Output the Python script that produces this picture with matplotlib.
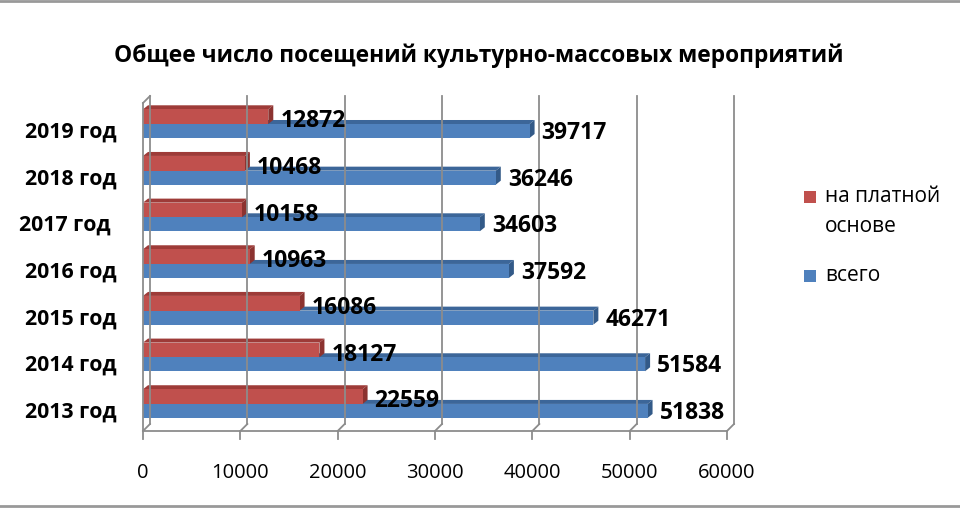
import matplotlib
matplotlib.use('Agg')
import matplotlib.pyplot as plt
from matplotlib.patches import Polygon, Rectangle
from matplotlib.lines import Line2D
import matplotlib.transforms as mtransforms

plt.rcParams['font.family'] = ['Open Sans', 'DejaVu Sans']

# data (bottom to top)
years = ['2013 год', '2014 год', '2015 год', '2016 год', '2017 год ', '2018 год', '2019 год']
paid = [22559, 18127, 16086, 10963, 10158, 10468, 12872]
total = [51838, 51584, 46271, 37592, 34603, 36246, 39717]
xticks = [0, 10000, 20000, 30000, 40000, 50000, 60000]
title = 'Общее число посещений культурно-массовых мероприятий'
series_names = ['на платной\nоснове', 'всего']

RED, RED_TOP, RED_SIDE = '#C0504D', '#9E3B38', '#8C3330'
BLUE, BLUE_TOP, BLUE_SIDE = '#4F81BD', '#3C6699', '#335A88'
GRID = '#8C8C8C'

W, H = 960, 510
fig = plt.figure(figsize=(W / 100, H / 100), dpi=100)
ax = fig.add_axes([143 / W, (H - 432) / H, 584 / W, (432 - 97) / H])
ax.set_xlim(0, 60000)
ax.set_ylim(-0.58, 6.6)
for s in ax.spines.values():
    s.set_visible(False)

# pixel -> data helpers
px_x = 60000 / 584
px_y = 7.18 / 335
back_dx, back_dy = 7, 7

# back wall grid lines and floor diagonals
back = mtransforms.offset_copy(ax.transData, fig=fig, x=back_dx, y=back_dy, units='dots')
y_floor, y_top = -0.58, 6.6 - back_dy * px_y
for v in xticks:
    ax.add_line(Line2D([v, v], [y_floor, y_top], transform=back, color=GRID, lw=1.3, clip_on=False))
    ax.add_line(Line2D([v, v + back_dx * px_x], [y_floor, y_floor + back_dy * px_y],
                       color=GRID, lw=1.3, clip_on=False))
    ax.add_line(Line2D([v, v], [y_floor, y_floor - 8 * px_y], color=GRID, lw=1.3, clip_on=False))
ax.add_line(Line2D([0, 60000], [y_floor, y_floor], color=GRID, lw=1.3, clip_on=False))
ax.add_line(Line2D([0, 0], [y_floor, y_top], color=GRID, lw=1.3, clip_on=False))
ax.add_line(Line2D([0, back_dx * px_x], [y_top, y_top + back_dy * px_y], color=GRID, lw=1.3, clip_on=False))


def bar3d(y0, h, val, front, top, side):
    dx, dy = 5 * px_x, 4 * px_y
    ax.add_patch(Polygon([[0, y0 + h], [val, y0 + h], [val + dx, y0 + h + dy], [dx, y0 + h + dy]],
                         closed=True, fc=top, ec='none'))
    ax.add_patch(Polygon([[val, y0], [val + dx, y0 + dy], [val + dx, y0 + h + dy], [val, y0 + h]],
                         closed=True, fc=side, ec='none'))
    ax.barh(y0, val, height=h, left=0, align='edge', color=front, edgecolor='none')


hb = 0.3
for i in range(len(years)):
    bar3d(i - hb, hb, total[i], BLUE, BLUE_TOP, BLUE_SIDE)
    bar3d(i, hb * 1.05, paid[i], RED, RED_TOP, RED_SIDE)
    ax.text(paid[i] + 12 * px_x, i + 0.08, f'{paid[i]}', fontsize=16.5, fontweight='bold',
            va='center', ha='left', color='black')
    ax.text(total[i] + 12 * px_x, i - 0.17, f'{total[i]}', fontsize=16.5, fontweight='bold',
            va='center', ha='left', color='black')

ax.set_yticks([i - 0.1 for i in range(len(years))])
ax.set_yticklabels(years, fontsize=15.3, fontweight='bold')
ax.tick_params(axis='y', length=0, pad=19)
ax.set_xticks(xticks)
ax.set_xticklabels([str(v) for v in xticks], fontsize=14.5)
ax.tick_params(axis='x', length=0, pad=22)

fig.text(479 / W, 1 - 56 / H, title, fontsize=16.4, fontweight='bold', ha='center', va='center')

# legend, drawn by hand so the marker sits on the first text line
leg_colors = [RED, BLUE]
leg_y = [198, 277]
for name, c, yy in zip(series_names, leg_colors, leg_y):
    fig.add_artist(Rectangle((804 / W, 1 - (yy + 6) / H), 12 / W, 12 / H,
                             transform=fig.transFigure, fc=c, ec='none'))
    fig.text(825 / W, 1 - (yy - 12) / H, name, fontsize=15, ha='left', va='top', linespacing=1.55)

# outer frame lines
fig.add_artist(Line2D([0, 1], [1 - 2 / H, 1 - 2 / H], transform=fig.transFigure, color='#999999', lw=2))
fig.add_artist(Line2D([0, 1], [1 - 507 / H, 1 - 507 / H], transform=fig.transFigure, color='#999999', lw=2))

fig.savefig('out.png', dpi=100)
